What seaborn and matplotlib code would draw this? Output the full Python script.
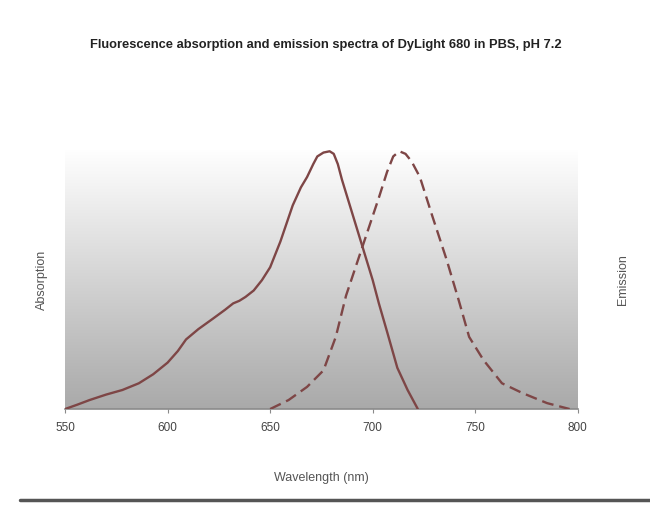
import matplotlib
matplotlib.use('Agg')
import matplotlib.pyplot as plt
import matplotlib.colors as mcolors
from matplotlib.lines import Line2D
import seaborn as sns
import numpy as np
import pandas as pd

# absorption spectrum (solid), normalised
abs_nm = [550, 556, 562, 570, 578, 586, 593, 600, 605, 609, 615, 622, 628, 632, 635,
          638, 642, 646, 650, 655, 661, 665, 668, 671, 673, 676, 679, 681, 683,
          685, 690, 695, 700, 703, 707, 712, 717, 722]
abs_val = [0.0, 0.017, 0.035, 0.056, 0.074, 0.10, 0.135, 0.18, 0.225, 0.27, 0.31,
           0.35, 0.385, 0.41, 0.42, 0.435, 0.46, 0.50, 0.55, 0.65, 0.79, 0.86, 0.90,
           0.95, 0.98, 0.995, 1.0, 0.99, 0.95, 0.89, 0.76, 0.63, 0.50, 0.41, 0.30,
           0.16, 0.074, 0.0]

# emission spectrum (dashed), normalised
em_nm = [650, 659, 668, 676, 682, 687, 695, 703, 707, 710, 713, 716, 719, 723, 729,
         736, 742, 747, 754, 763, 773, 785, 796]
em_val = [0.0, 0.035, 0.086, 0.15, 0.28, 0.44, 0.63, 0.82, 0.92, 0.98, 1.0, 0.99,
          0.96, 0.90, 0.75, 0.58, 0.42, 0.28, 0.19, 0.10, 0.062, 0.023, 0.0]

x_ticks = [550, 600, 650, 700, 750, 800]

abs_df = pd.DataFrame({'Wavelength': abs_nm, 'Value': abs_val})
em_df = pd.DataFrame({'Wavelength': em_nm, 'Value': em_val})

sns.set_style('white')
plt.rcParams['font.family'] = ['Liberation Sans', 'DejaVu Sans']

line_color = '#7e4646'

fig = plt.figure(figsize=(6.5, 5.05), dpi=100)
ax = fig.add_axes([0.1, 0.19, 0.789, 0.513])

# gradient background of the plot area
grad = np.linspace(0, 1, 256).reshape(-1, 1)
cmap = mcolors.LinearSegmentedColormap.from_list('bg', ['#a9a9a9', '#ffffff'])
ax.imshow(grad, cmap=cmap, aspect='auto', extent=[0, 1, 0, 1],
          transform=ax.transAxes, origin='lower', zorder=0)

sns.lineplot(data=abs_df, x='Wavelength', y='Value', ax=ax, color=line_color,
             linewidth=1.7, zorder=3)

ax2 = ax.twinx()
sns.lineplot(data=em_df, x='Wavelength', y='Value', ax=ax2, color=line_color,
             linewidth=1.7, linestyle=(0, (5, 2.5)), zorder=3)

for a in (ax, ax2):
    a.set_xlim(550, 800)
    a.set_ylim(0, 1.005)
    a.set_yticks([])
    for s in a.spines.values():
        s.set_visible(False)

ax.spines['bottom'].set_visible(True)
ax.spines['bottom'].set_color('#8a8a8a')
ax.spines['bottom'].set_linewidth(1.2)

ax.set_xticks(x_ticks)
ax.tick_params(axis='x', bottom=True, length=3, width=0.8, color='#8a8a8a',
               labelsize=8.5, labelcolor='#444444', pad=6)

ax.set_xlabel('Wavelength (nm)', fontsize=9, color='#555555', labelpad=28)
ax.set_ylabel('Absorption', fontsize=9, color='#555555', labelpad=12)
ax2.set_ylabel('Emission', fontsize=9, color='#555555', labelpad=28)

fig.text(0.502, 0.91, 'Fluorescence absorption and emission spectra of DyLight 680 in PBS, pH 7.2',
         ha='center', va='center', fontsize=9.3, fontweight='bold', color='#222222')

# bottom border line of the original frame
fig.add_artist(Line2D([0.03, 1.0], [0.01, 0.01], color='#555555', linewidth=2.5,
                      transform=fig.transFigure))

fig.savefig('out.png', dpi=100)
